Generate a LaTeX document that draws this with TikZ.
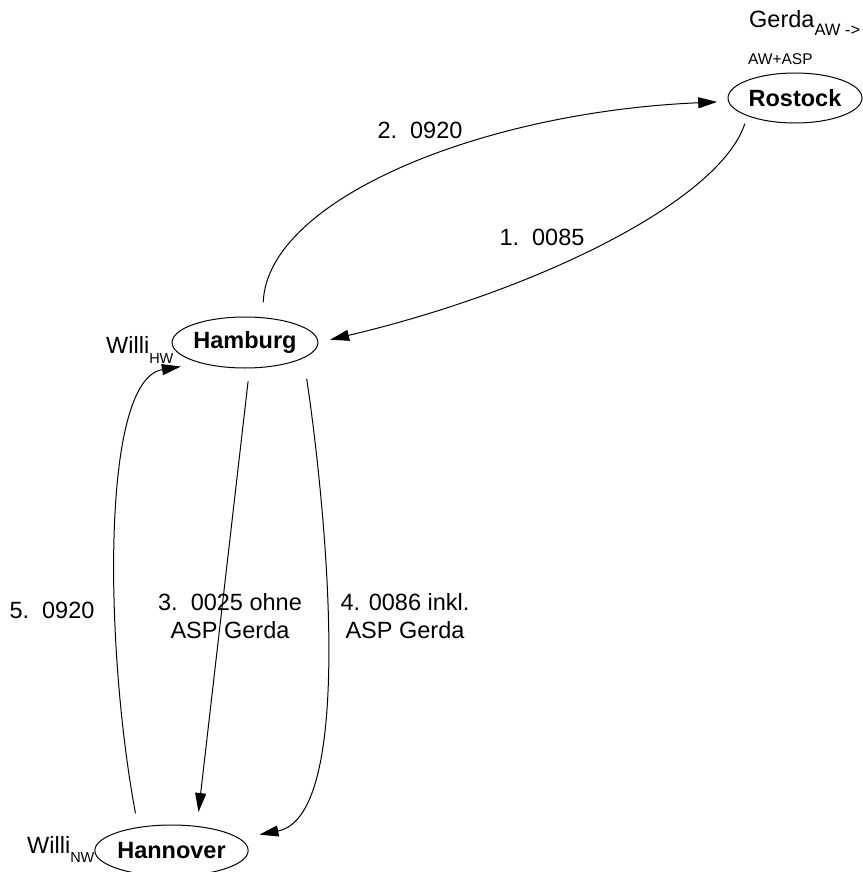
\documentclass[tikz,border=0pt]{standalone}
\usepackage{fontspec}
\setmainfont{Liberation Sans}
\usetikzlibrary{arrows.meta,shapes.geometric}
\tikzset{
  city/.style={draw, ellipse, line width=1pt, inner sep=0pt, minimum width=131pt, minimum height=51pt, font=\fontsize{23.5}{28}\selectfont\bfseries},
  lbl/.style={font=\fontsize{23.5}{28}\selectfont, inner sep=0pt, align=center},
  conn/.style={line width=1pt, -{Triangle[length=19pt,width=11pt]}},
}
\newcommand{\subtxt}[2]{\raisebox{#1}{\fontsize{14.5}{15}\selectfont #2}}
\begin{document}
\begin{tikzpicture}[x=1pt,y=-1pt]
\useasboundingbox (0,0) rectangle (862,872);
\node[city, minimum width=134pt, minimum height=50pt] (ros) at (795,98) {Rostock};
\node[city] (ham) at (245,342.5) {Hamburg};
\node[city] (han) at (171.5,850.5) {Hannover};

\node[lbl, anchor=base west] (gerda) at (749,28) {Gerda\subtxt{-8pt}{\fontsize{16.5}{16.5}\selectfont AW ->}};
\node[lbl, anchor=base west, font=\fontsize{15.5}{16}\selectfont] (awasp) at (748,65) {AW+ASP};
\node[lbl, anchor=base west] (willihw) at (106,353) {Willi\subtxt{-10pt}{HW}};
\node[lbl, anchor=base west] (willinw) at (27,853) {Willi\subtxt{-9pt}{NW}};

\node[lbl] (l2) at (420,130) {2.~~0920};
\node[lbl] (l1) at (542,237) {1.~~0085};
\node[lbl] (l3) at (230,616) {3.~~0025 ohne\\ASP Gerda};
\node[lbl] (l4) at (405,616) {4. 0086 inkl.\\ASP Gerda};
\node[lbl] (l5) at (52,610) {5.~~0920};

% 2: Hamburg -> Rostock
\draw[conn, shorten <=15pt, shorten >=11pt] (ham.55) .. controls (267,200) and (480,112) .. (ros.183);
% 1: Rostock -> Hamburg
\draw[conn, shorten <=8pt, shorten >=12pt] (ros.south west) .. controls (720,200) and (540,290) .. (ham.east);
% 3: Hamburg -> Hannover
\draw[conn, shorten <=13pt, shorten >=14pt] (ham.280) -- (han.44);
% 4: Hamburg -> Hannover
\draw[conn, shorten <=21pt, shorten >=20pt] (ham.-15) .. controls (322,480) and (360,815) .. (han.10);
% 5: Hannover -> Hamburg
\draw[conn, shorten <=14pt, shorten >=20pt] (han.145) .. controls (105,650) and (100,380) .. (ham.205);
\end{tikzpicture}
\end{document}
